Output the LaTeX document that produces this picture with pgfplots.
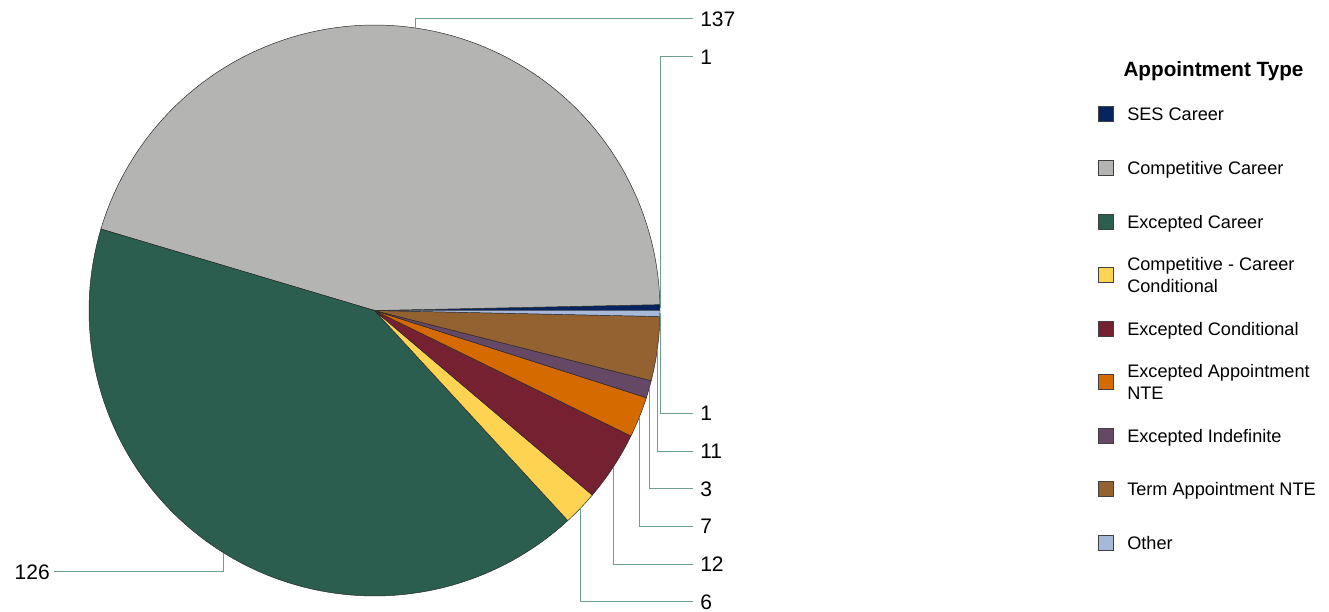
\documentclass[border=0pt]{standalone}
\usepackage{pgfplots}
\pgfplotsset{compat=1.18}
\usepackage{fontspec}
\setmainfont{Liberation Sans}

\definecolor{cSES}{HTML}{06255F}
\definecolor{cComp}{HTML}{B4B4B3}
\definecolor{cExc}{HTML}{2B5E4E}
\definecolor{cCompCond}{HTML}{FED352}
\definecolor{cExcCond}{HTML}{762131}
\definecolor{cNTE}{HTML}{D46A00}
\definecolor{cIndef}{HTML}{654866}
\definecolor{cTerm}{HTML}{946230}
\definecolor{cOther}{HTML}{A6B9DB}
\definecolor{leader}{RGB}{109,158,143}

% values (in legend order)
\def\vA{1}   % SES Career
\def\vB{137} % Competitive Career
\def\vC{126} % Excepted Career
\def\vD{6}   % Competitive - Career Conditional
\def\vE{12}  % Excepted Conditional
\def\vF{7}   % Excepted Appointment NTE
\def\vG{3}   % Excepted Indefinite
\def\vH{11}  % Term Appointment NTE
\def\vI{1}   % Other
\pgfmathsetmacro{\tot}{\vA+\vB+\vC+\vD+\vE+\vF+\vG+\vH+\vI}
\pgfmathsetmacro{\aA}{0}
\pgfmathsetmacro{\aB}{\aA+\vA/\tot*360}
\pgfmathsetmacro{\aC}{\aB+\vB/\tot*360}
\pgfmathsetmacro{\aD}{\aC+\vC/\tot*360}
\pgfmathsetmacro{\aE}{\aD+\vD/\tot*360}
\pgfmathsetmacro{\aF}{\aE+\vE/\tot*360}
\pgfmathsetmacro{\aG}{\aF+\vF/\tot*360}
\pgfmathsetmacro{\aH}{\aG+\vG/\tot*360}
\pgfmathsetmacro{\aI}{\aH+\vH/\tot*360}
\def\aJ{360}

\newcommand{\slice}[3]{%
  \addplot[fill=#3, draw=black!85, line width=0.35pt, domain=#1:#2, samples=90, variable=\t]
    ({374.5+285.5*cos(\t)}, {310.5-285.5*sin(\t)}) -- (axis cs:374.5,310.5) -- cycle;}

\tikzset{lbl/.style={anchor=base west, inner sep=0pt, font=\fontsize{15.75}{18}\selectfont},
         lgd/.style={anchor=base west, inner sep=0pt, font=\fontsize{13.6}{16}\selectfont},
         ld/.style={draw=leader, line width=0.75pt}}

\begin{document}
\begin{tikzpicture}
\begin{axis}[
  width=996.75pt, height=458.25pt, scale only axis,
  xmin=0, xmax=1329, ymin=0, ymax=611, y dir=reverse,
  hide axis, clip=false]
\path (axis cs:0,0) rectangle (axis cs:1329,611);

\slice{\aA}{\aB}{cSES}
\slice{\aB}{\aC}{cComp}
\slice{\aC}{\aD}{cExc}
\slice{\aD}{\aE}{cCompCond}
\slice{\aE}{\aF}{cExcCond}
\slice{\aF}{\aG}{cNTE}
\slice{\aG}{\aH}{cIndef}
\slice{\aH}{\aI}{cTerm}
\slice{\aI}{\aJ}{cOther}

% leader lines and value labels
\draw[ld] (axis cs:415.7,28) |- (axis cs:693,18.5);
\node[lbl] at (axis cs:700,26) {137};
\draw[ld] (axis cs:660,307.5) |- (axis cs:693,56.5);
\node[lbl] at (axis cs:700,64) {1};
\draw[ld] (axis cs:660,313.4) |- (axis cs:693,413);
\node[lbl] at (axis cs:700,420.5) {1};
\draw[ld] (axis cs:657.5,348.8) |- (axis cs:693,451);
\node[lbl] at (axis cs:700,458.5) {11};
\draw[ld] (axis cs:649,389.2) |- (axis cs:693,488.5);
\node[lbl] at (axis cs:700,496) {3};
\draw[ld] (axis cs:639.4,417) |- (axis cs:693,526);
\node[lbl] at (axis cs:700,533.5) {7};
\draw[ld] (axis cs:613.5,466.7) |- (axis cs:693,564);
\node[lbl] at (axis cs:700,571.5) {12};
\draw[ld] (axis cs:580.6,508.1) |- (axis cs:693,601.5);
\node[lbl] at (axis cs:700,609) {6};
\draw[ld] (axis cs:223.3,552.7) |- (axis cs:54,571.7);
\node[lbl, anchor=base east] at (axis cs:50,579.2) {126};

% legend
\node[anchor=base, inner sep=0pt, font=\fontsize{15.5}{18}\selectfont\bfseries] at (axis cs:1213.5,76) {Appointment Type};
\newcommand{\lsq}[2]{\draw[fill=#2, draw=black!75, line width=0.5pt] (axis cs:1098,#1-7.5) rectangle (axis cs:1113,#1+7.5);}
\lsq{113.5}{cSES}
\node[lgd] at (axis cs:1127,120) {SES Career};
\lsq{167.5}{cComp}
\node[lgd] at (axis cs:1127,174) {Competitive Career};
\lsq{221.5}{cExc}
\node[lgd] at (axis cs:1127,228) {Excepted Career};
\lsq{274.5}{cCompCond}
\node[lgd] at (axis cs:1127,270.5) {Competitive - Career};
\node[lgd] at (axis cs:1127,292) {Conditional};
\lsq{328.5}{cExcCond}
\node[lgd] at (axis cs:1127,335) {Excepted Conditional};
\lsq{382}{cNTE}
\node[lgd] at (axis cs:1127,377.5) {Excepted Appointment};
\node[lgd] at (axis cs:1127,399) {NTE};
\lsq{435.5}{cIndef}
\node[lgd] at (axis cs:1127,442) {Excepted Indefinite};
\lsq{489}{cTerm}
\node[lgd] at (axis cs:1127,495.5) {Term Appointment NTE};
\lsq{542.5}{cOther}
\node[lgd] at (axis cs:1127,549) {Other};
\end{axis}
\end{tikzpicture}
\end{document}
